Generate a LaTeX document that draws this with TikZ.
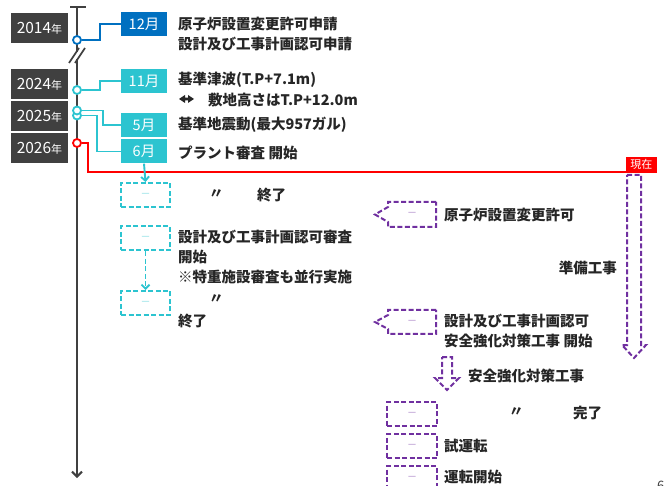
\documentclass[tikz,border=0pt]{standalone}
\usepackage{fontspec}
\setmainfont{Noto Sans CJK JP}
\usetikzlibrary{arrows.meta}
\definecolor{axc}{RGB}{64,64,64}
\definecolor{txc}{RGB}{38,38,38}
\definecolor{bluec}{RGB}{0,112,192}
\definecolor{cyanc}{RGB}{44,196,208}
\definecolor{purc}{RGB}{112,48,160}
\definecolor{redc}{RGB}{255,0,0}
\begin{document}
\begin{tikzpicture}[x=1pt,y=-1pt,
  yearbox/.style={fill=axc,text=white,minimum width=57pt,minimum height=30pt,inner sep=0pt,font=\fontsize{15.5}{18}\selectfont},
  mbox/.style={text=white,minimum width=46pt,minimum height=24pt,inner sep=0pt,font=\fontsize{14.5}{17}\selectfont},
  dot/.style={circle,fill=white,line width=1.8pt,minimum size=8pt,inner sep=0pt},
  txt/.style={anchor=west,inner sep=0pt,text=txc,align=left,font=\fontsize{14.5}{20}\selectfont\bfseries},
  cdash/.style={draw=cyanc,dash pattern=on 5pt off 2.5pt,line width=2pt,minimum width=49pt,minimum height=24pt,inner sep=0pt,text=cyanc!55,font=\fontsize{10}{12}\selectfont},
  pdash/.style={draw=purc,dash pattern=on 5pt off 2.5pt,line width=2pt,minimum width=50pt,minimum height=24pt,inner sep=0pt,text=purc!55,font=\fontsize{10}{12}\selectfont},
  pshape/.style={draw=purc,dash pattern=on 5pt off 2.5pt,line width=2pt,line join=miter},
  pmark/.style={inner sep=0pt,text=purc!55,font=\fontsize{10}{12}\selectfont},
  conn/.style={line width=1.9pt},
]
\useasboundingbox (0,0) rectangle (664,486);
\fill[white] (0,0) rectangle (664,486);

% axis
\coordinate (axtop) at (77,7);
\coordinate (axbrk1) at (77,52);
\coordinate (axbrk2) at (77,59);
\coordinate (axbot) at (77,478);
\draw[axc,line width=2pt] (70,7) -- (86,7);
\draw[axc,line width=2pt] (axtop) -- (axbrk1);
\draw[axc,line width=2pt,-{Straight Barb[length=5pt,width=10pt]}] (axbrk2) -- (axbot);
\draw[axc,line width=1.8pt] (69,63) -- (79,48);
\draw[axc,line width=1.8pt] (75,63) -- (85,48);

% year boxes
\node[yearbox] (y2014) at (39.5,28) {2014{\fontsize{11}{13}\selectfont 年}};
\node[yearbox] (y2024) at (39.5,84) {2024{\fontsize{11}{13}\selectfont 年}};
\node[yearbox] (y2025) at (39.5,116) {2025{\fontsize{11}{13}\selectfont 年}};
\node[yearbox] (y2026) at (39.5,148) {2026{\fontsize{11}{13}\selectfont 年}};

% month boxes
\node[mbox,fill=bluec] (m12) at (144,24) {12月};
\node[mbox,fill=cyanc] (m11) at (144,81) {11月};
\node[mbox,fill=cyanc] (m5) at (144,125) {5月};
\node[mbox,fill=cyanc] (m6) at (144,151.5) {6月};

% connectors
\node[dot,draw=bluec] (c2014) at (77,40) {};
\node[dot,draw=cyanc] (c2024) at (77,90) {};
\node[dot,draw=redc] (c2026) at (77,143) {};
\draw[conn,bluec] (c2014.east) -- (100,40) |- (m12.west);
\draw[conn,cyanc] (c2024.east) -- (100,90) |- (m11.west);
\node[dot,draw=cyanc] (c2025b) at (77,115.5) {};
\draw[conn,cyanc] (c2025b.east) -- (97,115.5) |- (m6.west);
\node[dot,draw=cyanc] (c2025a) at (77,110.5) {};
\draw[conn,cyanc] (c2025a.east) -- (103,110.5) |- (m5.west);

% red now line
\node[fill=redc,text=white,anchor=south east,inner sep=0pt,minimum width=31pt,minimum height=15pt,font=\fontsize{11}{13}\selectfont] (now) at (657,172) {現在};
\draw[conn,redc] (c2026.east) -- (88,143) |- (now.south east);

% texts for months
\node[txt] (t12) at (178,33.5) {原子炉設置変更許可申請\\設計及び工事計画認可申請};
\node[txt] (t11a) at (178,79.5) {基準津波(T.P+7.1m)};
\fill[txc] (179,99) -- (185,95) -- (185,97.6) -- (188,97.6) -- (188,95) -- (194,99) -- (188,103) -- (188,100.4) -- (185,100.4) -- (185,103) -- cycle;
\node[txt] (t11b) at (208,100) {敷地高さはT.P+12.0m};
\node[txt] (t5) at (178,124.5) {基準地震動(最大957ガル)};
\node[txt] (t6) at (178,152.5) {プラント審査 開始};

% cyan dashed boxes
\node[cdash] (d1) at (145.5,195) {－};
\node[cdash] (d2) at (145.5,238.5) {－};
\node[cdash] (d3) at (145.5,303) {－};
\draw[conn,cyanc,-{Straight Barb[length=4pt,width=8pt]}] (m6.south) -- (d1.north);
\draw[conn,cyanc,dash pattern=on 5pt off 2.5pt,-{Straight Barb[length=4pt,width=8pt]}] (d2.south) -- (d3.north);
\node[txt] (d1a) at (209,194) {〃};
\node[txt] (d1b) at (257,195) {終了};
\node[txt] (d2a) at (178,257) {設計及び工事計画認可審査\\開始\\※特重施設審査も並行実施};
\node[txt] (d3a) at (209,299) {〃};
\node[txt] (d3b) at (178,321) {終了};

% purple arrow boxes
\node[pmark] (pa1) at (412,214.5) {－};
\draw[pshape] (436,202) -- (388,202) -- (388,207) -- (375,214.5) -- (388,222) -- (388,227) -- (436,227) -- cycle;
\node[txt] (pa1t) at (444,214.5) {原子炉設置変更許可};
\node[pmark] (pa2) at (412,322) {－};
\draw[pshape] (436,310) -- (388,310) -- (388,315) -- (375,322) -- (388,329) -- (388,334) -- (436,334) -- cycle;
\node[txt] (pa2t) at (444,331) {設計及び工事計画認可\\安全強化対策工事 開始};

\node[txt,anchor=east] (prep) at (617,268) {準備工事};
\draw[pshape] (627,175) -- (641,175) -- (641,345) -- (646,345) -- (634,358) -- (622,345) -- (627,345) -- cycle;

\draw[pshape] (442,357) -- (452,357) -- (452,378) -- (459,378) -- (447,390) -- (435,378) -- (442,378) -- cycle;
\node[txt] (safe) at (468,375.5) {安全強化対策工事};

\node[pdash] (pb1) at (412,414) {－};
\node[txt] (pb1a) at (509,412) {〃};
\node[txt] (pb1b) at (573,413) {完了};
\node[pdash] (pb2) at (412,446) {－};
\node[txt] (pb2a) at (444,446) {試運転};
\node[pdash] (pb3) at (412,478) {－};
\node[txt] (pb3a) at (444,477) {運転開始};

\node[anchor=north west,inner sep=0pt,text=axc,font=\fontsize{13}{15}\selectfont] (pg) at (657,481) {6};
\end{tikzpicture}
\end{document}
